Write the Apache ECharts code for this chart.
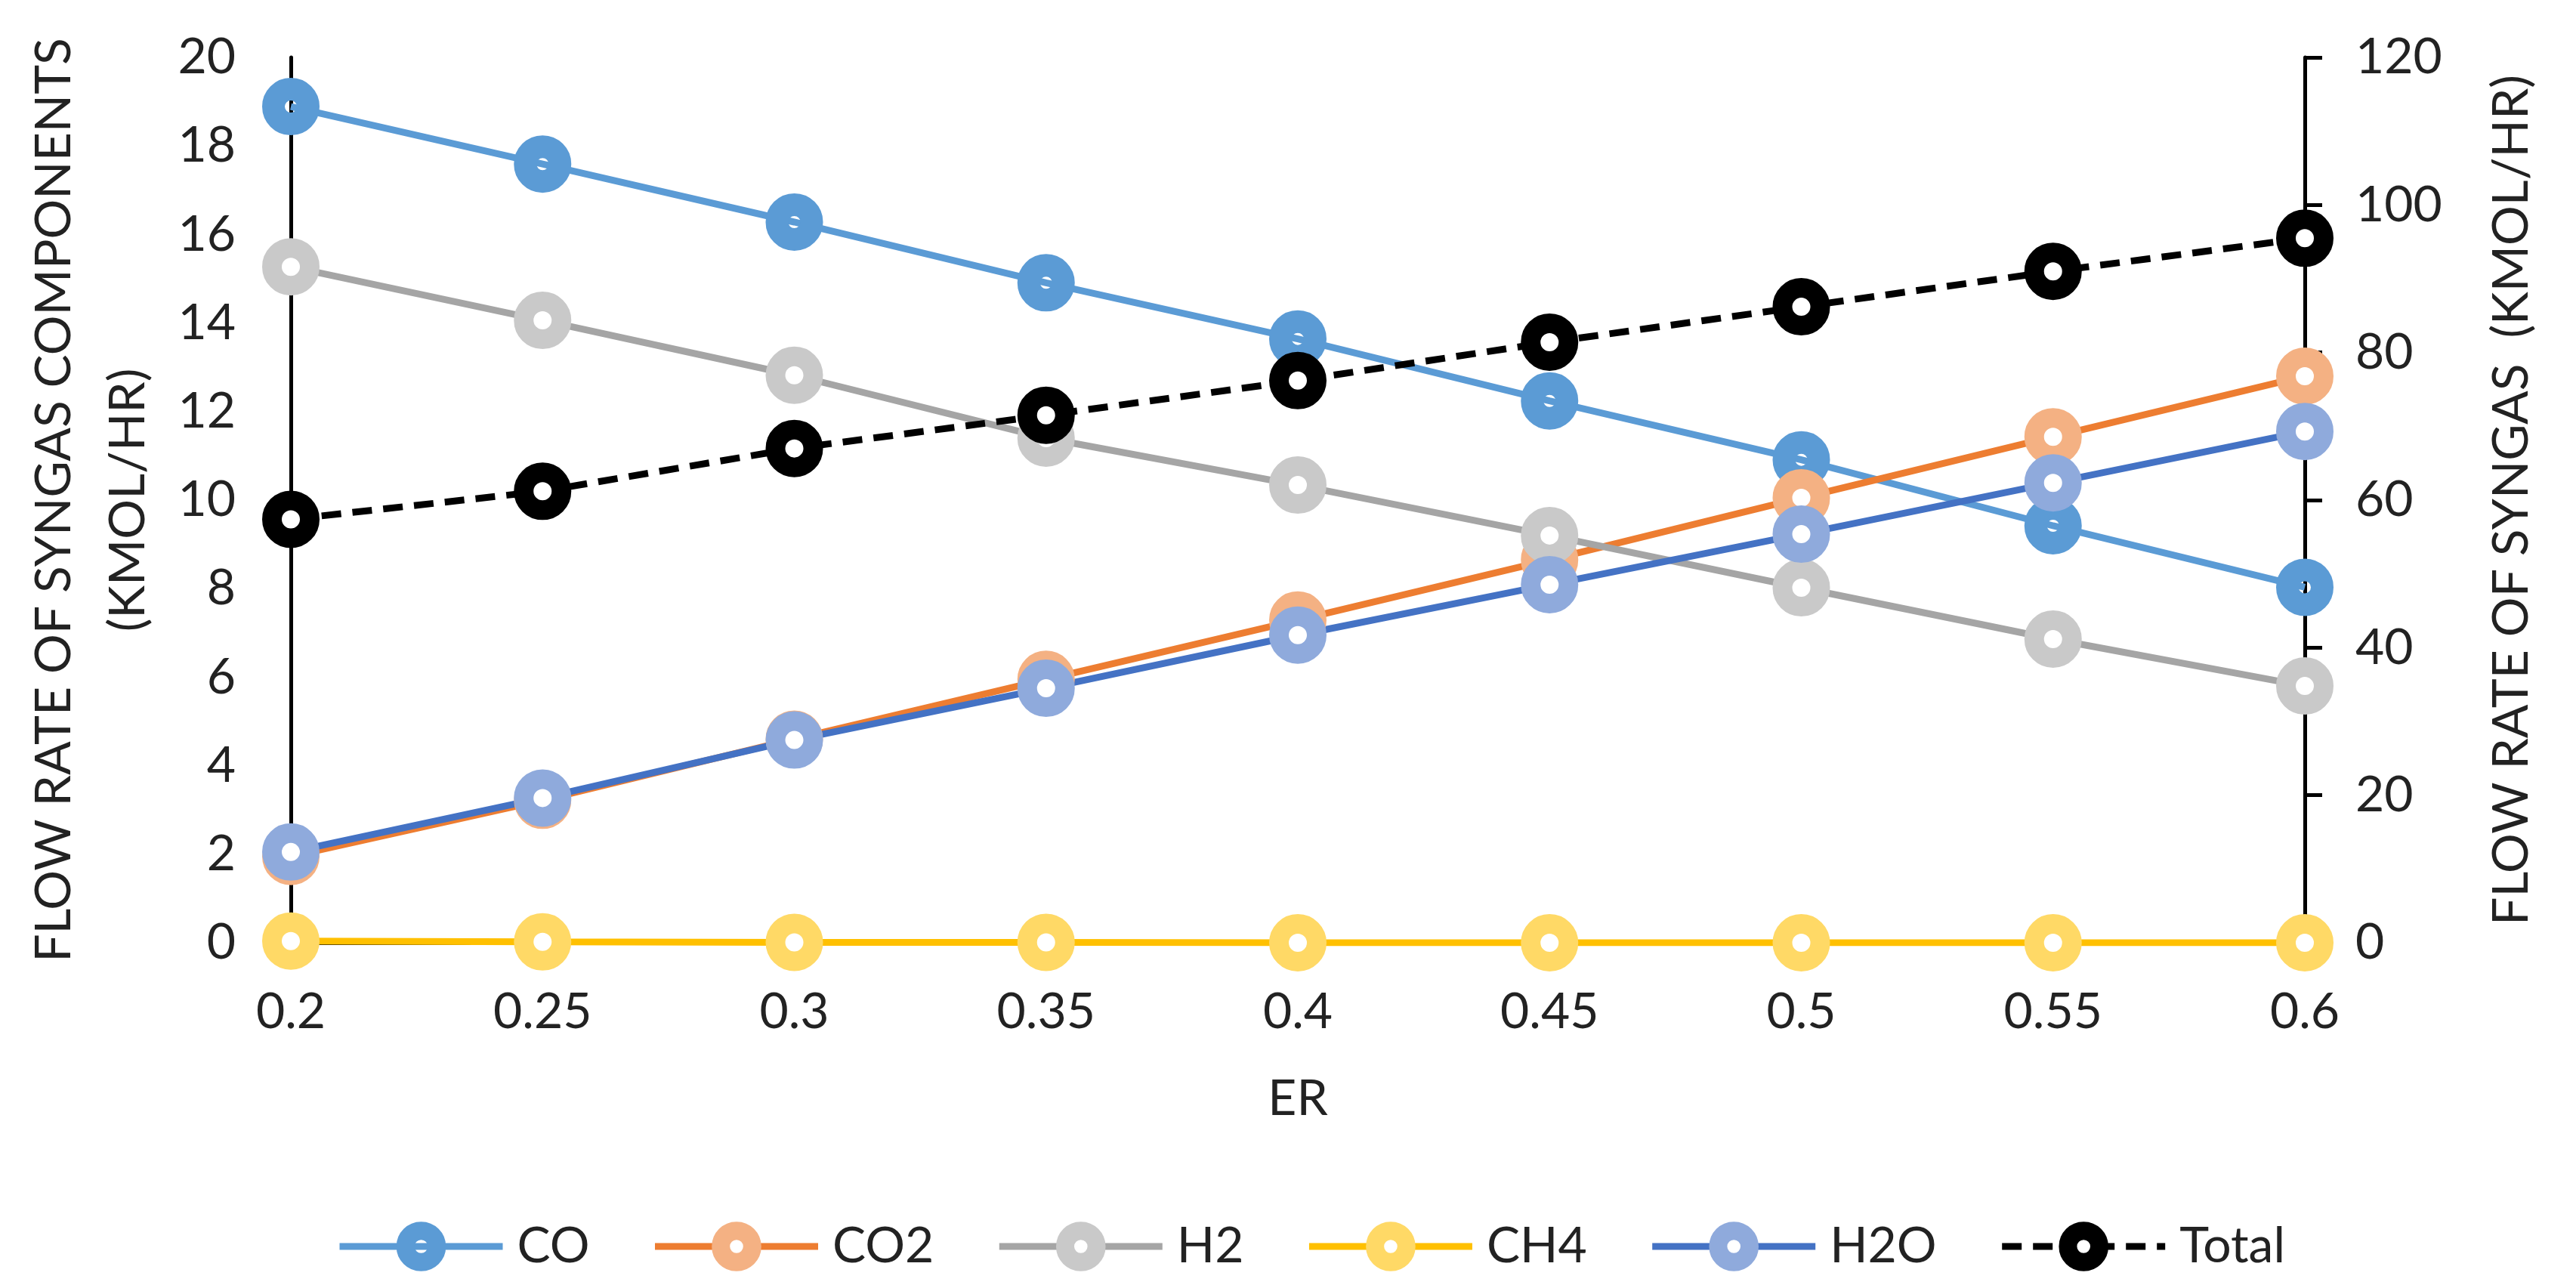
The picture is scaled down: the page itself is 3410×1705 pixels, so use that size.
<!DOCTYPE html>
<html>
<head>
<meta charset="utf-8">
<script src="https://cdn.jsdelivr.net/npm/echarts@6/dist/echarts.min.js"></script>
<style>
html,body{margin:0;padding:0;background:#fff;}
#chart{width:3410px;height:1705px;}
</style>
</head>
<body>
<div id="chart"></div>
<script>
const categories = ['0.2','0.25','0.3','0.35','0.4','0.45','0.5','0.55','0.6'];
const CO   = [18.89, 17.59, 16.28, 14.91, 13.64, 12.24, 10.91, 9.42, 8.03];
const CO2  = [1.95, 3.22, 4.60, 5.95, 7.29, 8.65, 10.05, 11.43, 12.80];
const H2   = [15.27, 14.06, 12.82, 11.40, 10.34, 9.20, 8.02, 6.86, 5.80];
const CH4  = [0.04, 0.02, 0.01, 0.01, 0.00, 0.00, 0.00, 0.00, 0.00];
const H2O  = [2.05, 3.27, 4.58, 5.75, 6.95, 8.09, 9.23, 10.39, 11.55];
const Total = [57.4, 61.2, 67.0, 71.5, 76.2, 81.4, 86.2, 91.0, 95.5];
const leftTicks = [0,2,4,6,8,10,12,14,16,18,20];
const rightTicks = [0,20,40,60,80,100,120];

const FONT = 'Lato';
const TXT = '#222';
const FS = 66;

function lineSeries(name, data, lineColor, markColor, opts) {
  opts = opts || {};
  return {
    name: name, type: 'line', data: data,
    yAxisIndex: opts.yAxisIndex || 0,
    symbol: 'circle',
    symbolSize: opts.symbolSize || 50,
    showAllSymbol: true,
    lineStyle: {color: lineColor, width: opts.lineWidth || 9, type: opts.dash || 'solid'},
    itemStyle: {color: opts.fill || '#ffffff', borderColor: markColor, borderWidth: opts.borderWidth || 26},
    emphasis: {disabled: true},
    z: opts.z || 2
  };
}

const chart = echarts.init(document.getElementById('chart'), null, {renderer: 'canvas'});
chart.setOption({
  animation: false,
  backgroundColor: '#ffffff',
  textStyle: {fontFamily: FONT},
  grid: {left: 385, right: 359, top: 76, bottom: 457, containLabel: false},
  legend: {
    data: ['CO','CO2','H2','CH4','H2O','Total'],
    left: 440, top: 1612,
    itemWidth: 216, itemHeight: 52, itemGap: 82,
    lineStyle: {width: 9},
    itemStyle: {borderWidth: 24},
    textStyle: {fontFamily: FONT, fontSize: FS, color: TXT, padding: [0,0,0,14]}
  },
  xAxis: [{
    type: 'category', data: categories, boundaryGap: false,
    name: 'ER', nameLocation: 'middle', nameGap: 174,
    nameTextStyle: {fontFamily: FONT, fontSize: FS, color: TXT},
    axisLine: {show: false}, axisTick: {show: false},
    axisLabel: {fontFamily: FONT, fontSize: FS, color: TXT, margin: 59},
    splitLine: {show: false}
  }, {
    type: 'category', data: categories, boundaryGap: false, position: 'top',
    axisLine: {show: true, lineStyle: {color: '#000', width: 5}},
    axisTick: {show: false}, axisLabel: {show: false}, splitLine: {show: false}
  }],
  yAxis: [{
    type: 'value', min: leftTicks[0], max: leftTicks[leftTicks.length-1], interval: 2,
    name: 'FLOW RATE OF SYNGAS COMPONENTS\n(KMOL/HR)',
    nameLocation: 'middle', nameRotate: 90, nameGap: 166,
    nameTextStyle: {fontFamily: FONT, fontSize: FS, color: TXT, lineHeight: 98, align: 'center'},
    axisLine: {show: true, lineStyle: {color: '#000', width: 5}},
    axisTick: {show: false},
    axisLabel: {fontFamily: FONT, fontSize: FS, color: TXT, margin: 73},
    splitLine: {show: false}
  }, {
    type: 'value', min: rightTicks[0], max: rightTicks[rightTicks.length-1], interval: 20,
    position: 'right',
    name: 'FLOW RATE OF SYNGAS  (KMOL/HR)',
    nameLocation: 'middle', nameRotate: 90, nameGap: 241,
    nameTextStyle: {fontFamily: FONT, fontSize: FS, color: TXT},
    axisLine: {show: true, lineStyle: {color: '#000', width: 5}},
    axisTick: {show: true, inside: false, length: 23, lineStyle: {color: '#000', width: 5}},
    axisLabel: {fontFamily: FONT, fontSize: FS, color: TXT, margin: 67},
    splitLine: {show: false}
  }],
  series: [
    lineSeries('CO', CO, '#5B9BD5', '#5B9BD5', {fill: 'rgba(255,255,255,0)', symbolSize: 46, borderWidth: 30}),
    lineSeries('CO2', CO2, '#ED7D31', '#F4B183'),
    lineSeries('H2', H2, '#A5A5A5', '#C9C9C9'),
    lineSeries('CH4', CH4, '#FFC000', '#FFD966'),
    lineSeries('H2O', H2O, '#4472C4', '#8FAADC'),
    lineSeries('Total', Total, '#000000', '#000000', {yAxisIndex: 1, dash: [26, 15], lineWidth: 9, z: 3})
  ]
});
</script>
</body>
</html>
